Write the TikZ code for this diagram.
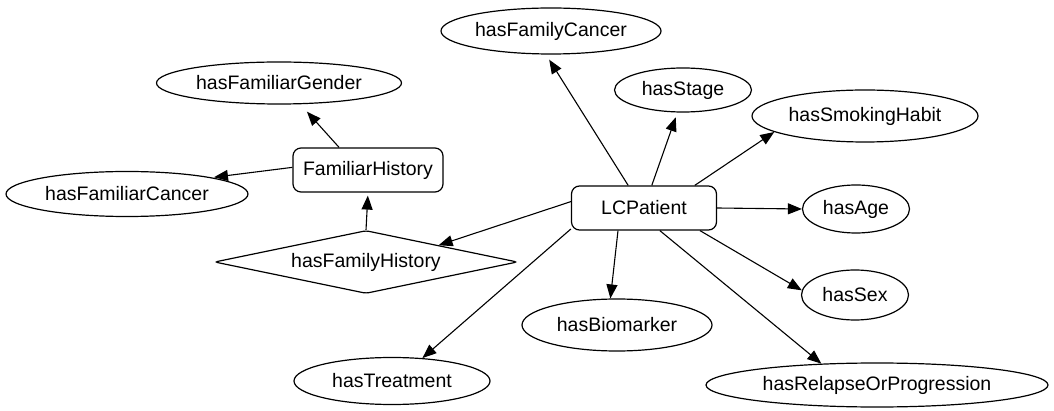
\documentclass[tikz,border=0pt]{standalone}
\usepackage{fontspec}
\setmainfont{Liberation Sans}
\usetikzlibrary{shapes.geometric,arrows.meta}
\begin{document}
\begin{tikzpicture}[x=1pt,y=-1pt,
  every node/.style={font=\fontsize{19.5}{22}\selectfont},
  ell/.style={draw,ellipse,line width=1.2pt,inner sep=0pt,fill=white},
  rbox/.style={draw,rounded corners=8pt,line width=1.2pt,inner sep=0pt,fill=white},
  dia/.style={draw,diamond,line width=1.2pt,inner sep=0pt,aspect=4.8,fill=white,rounded corners=3pt},
  conn/.style={line width=1.1pt,-{Triangle[length=14pt,width=11pt]}}]
\useasboundingbox (0,0) rectangle (1054,411);
% nodes
\node[ell,minimum width=220pt,minimum height=46pt] (fc) at (551,31) {hasFamilyCancer};
\node[ell,minimum width=245pt,minimum height=42pt] (fg) at (279,83) {hasFamiliarGender};
\node[ell,minimum width=137pt,minimum height=44pt] (st) at (683,90) {hasStage};
\node[ell,minimum width=226pt,minimum height=52pt] (sm) at (865,116) {hasSmokingHabit};
\node[rbox,minimum width=150pt,minimum height=44pt] (fh) at (368,170) {FamiliarHistory};
\node[ell,minimum width=242pt,minimum height=45pt] (fca) at (127,194) {hasFamiliarCancer};
\node[rbox,minimum width=145pt,minimum height=44pt] (lc) at (644,208) {LCPatient};
\node[ell,minimum width=107pt,minimum height=48pt] (age) at (856,209) {hasAge};
\node[dia,minimum width=303pt,minimum height=63pt] (hfh) at (366,262) {hasFamilyHistory};
\node[ell,minimum width=107pt,minimum height=50pt] (sex) at (855,295) {hasSex};
\node[ell,minimum width=190pt,minimum height=52pt] (bio) at (617,325) {hasBiomarker};
\node[ell,minimum width=196pt,minimum height=47pt] (tr) at (392,381) {hasTreatment};
\node[ell,minimum width=342pt,minimum height=44pt] (rel) at (877,385) {hasRelapseOrProgression};
% connectors
\draw[conn,shorten >=6pt] (lc.125) -- (fc.258);
\draw[conn,shorten >=5pt] (lc.71) -- (st.256);
\draw[conn] (lc.24) -- (sm.190);
\draw[conn] (lc.east) -- (age.west);
\draw[conn] (lc.-22) -- (sex.175);
\draw[conn] (lc.-55) -- (rel.159);
\draw[conn] (lc.221) -- (bio.104);
\draw[conn] (lc.196) -- (tr.37);
\draw[conn] (lc.175) -- (hfh.13);
\draw[conn,shorten >=10pt] (fh.142) -- (fg.-45);
\draw[conn,shorten >=2pt] (fh.178) -- (fca.11);
\draw[conn,shorten >=3pt] (hfh.north) -- (fh.south);
\end{tikzpicture}
\end{document}
